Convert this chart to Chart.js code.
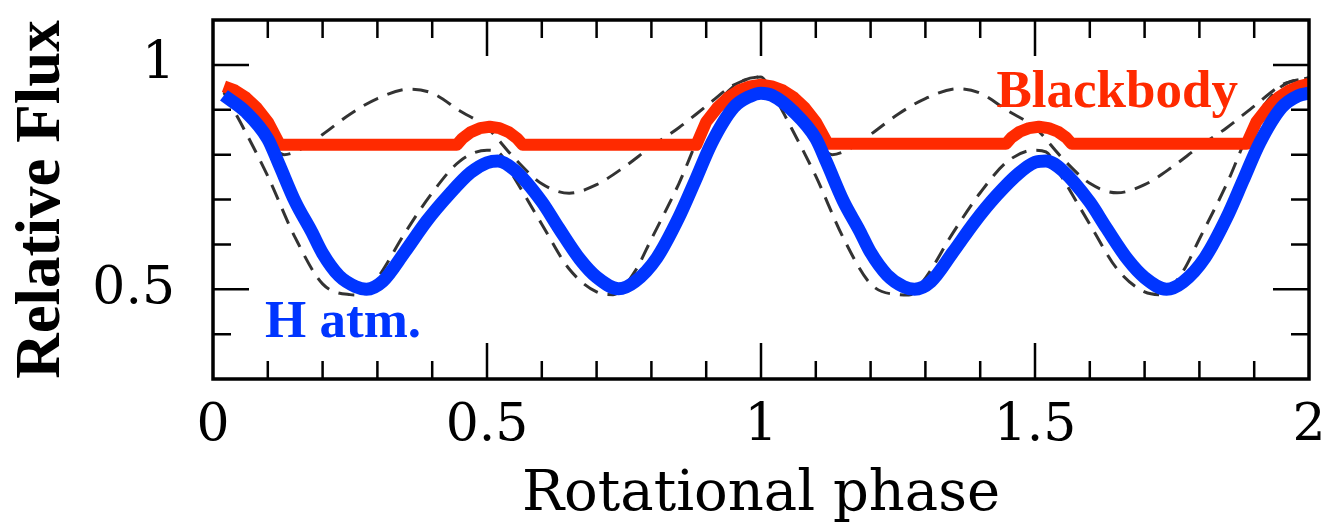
<!DOCTYPE html>
<html lang="en">

<head>
  <meta charset="UTF-8" />
  <title>Rotational phase</title>
  <script src="https://cdn.jsdelivr.net/npm/chart.js"></script>
  <style>
    body { margin: 0; background: #fff; }
  </style>
</head>

<body>
  <canvas id="graficoFase" width="1331" height="525"></canvas>

<script>
  // H atmosphere model (blue)
  const hPhase = [0.02, 0.06, 0.10, 0.12, 0.15, 0.18, 0.20, 0.23, 0.26, 0.28, 0.31, 0.35, 0.39, 0.43, 0.47, 0.50,
    0.52, 0.55, 0.60, 0.63, 0.67, 0.70, 0.74, 0.77, 0.81, 0.85, 0.88, 0.91, 0.95, 0.98, 1.00,
    1.02, 1.06, 1.10, 1.12, 1.15, 1.18, 1.20, 1.23, 1.26, 1.28, 1.31, 1.35, 1.39, 1.43, 1.47, 1.50,
    1.52, 1.55, 1.60, 1.63, 1.67, 1.70, 1.74, 1.77, 1.81, 1.85, 1.88, 1.91, 1.95, 1.98, 2.00];
  const hFlux = [0.932, 0.895, 0.835, 0.780, 0.695, 0.628, 0.580, 0.530, 0.506, 0.500, 0.518, 0.583, 0.652, 0.710, 0.760, 0.782,
    0.786, 0.766, 0.695, 0.638, 0.566, 0.527, 0.501, 0.517, 0.570, 0.660, 0.742, 0.826, 0.905, 0.930, 0.937,
    0.932, 0.895, 0.836, 0.782, 0.697, 0.630, 0.582, 0.532, 0.506, 0.500, 0.517, 0.582, 0.650, 0.709, 0.758, 0.783,
    0.786, 0.765, 0.694, 0.637, 0.565, 0.526, 0.500, 0.516, 0.570, 0.660, 0.743, 0.826, 0.905, 0.931, 0.937];

  // blackbody (red) - flat floor with sharp corners, so no smoothing on this one
  const bbPhase = [0.02, 0.04, 0.06, 0.08, 0.10, 0.122, 0.445, 0.455, 0.47, 0.487, 0.505, 0.523, 0.54, 0.555, 0.565,
    0.882, 0.90, 0.92, 0.94, 0.96, 0.98, 1.00, 1.02, 1.04, 1.06, 1.08, 1.10, 1.122,
    1.447, 1.457, 1.472, 1.489, 1.507, 1.525, 1.542, 1.557, 1.567,
    1.886, 1.904, 1.924, 1.944, 1.964, 1.984, 2.00];
  const bbFlux = [0.952, 0.943, 0.927, 0.904, 0.873, 0.822, 0.822, 0.836, 0.850, 0.859, 0.862, 0.859, 0.850, 0.836, 0.822,
    0.822, 0.873, 0.904, 0.927, 0.943, 0.952, 0.956, 0.952, 0.943, 0.927, 0.904, 0.873, 0.824,
    0.824, 0.838, 0.851, 0.859, 0.862, 0.859, 0.851, 0.838, 0.824,
    0.824, 0.873, 0.904, 0.927, 0.943, 0.953, 0.958];

  // dashed comparison curves
  const upPhase = [0.02, 0.05, 0.08, 0.10, 0.13, 0.16, 0.20, 0.25, 0.30, 0.36, 0.40, 0.45, 0.50, 0.55, 0.60, 0.65,
    0.70, 0.75, 0.80, 0.85, 0.90, 0.95, 1.00,
    1.02, 1.05, 1.08, 1.10, 1.13, 1.16, 1.20, 1.25, 1.30, 1.36, 1.40, 1.45, 1.50, 1.55, 1.60, 1.65,
    1.70, 1.75, 1.80, 1.85, 1.90, 1.95, 2.00];
  const upFlux = [0.940, 0.903, 0.858, 0.830, 0.800, 0.812, 0.845, 0.890, 0.925, 0.946, 0.937, 0.898, 0.860, 0.792, 0.735, 0.714,
    0.733, 0.772, 0.818, 0.860, 0.908, 0.955, 0.973,
    0.942, 0.903, 0.858, 0.830, 0.800, 0.812, 0.845, 0.890, 0.925, 0.947, 0.937, 0.898, 0.860, 0.792, 0.736, 0.715,
    0.733, 0.772, 0.818, 0.860, 0.908, 0.955, 0.972];

  const lowPhase = [0.02, 0.05, 0.10, 0.15, 0.20, 0.25, 0.27, 0.30, 0.35, 0.40, 0.45, 0.50, 0.52, 0.55, 0.60, 0.65,
    0.70, 0.73, 0.77, 0.80, 0.85, 0.90, 0.95, 1.00,
    1.02, 1.05, 1.10, 1.15, 1.20, 1.25, 1.27, 1.30, 1.35, 1.40, 1.45, 1.50, 1.52, 1.55, 1.60, 1.65,
    1.70, 1.73, 1.77, 1.80, 1.85, 1.90, 1.95, 2.00];
  const lowFlux = [0.938, 0.872, 0.752, 0.615, 0.512, 0.488, 0.487, 0.525, 0.625, 0.715, 0.785, 0.810, 0.806, 0.748, 0.645, 0.545,
    0.494, 0.488, 0.540, 0.612, 0.735, 0.875, 0.952, 0.973,
    0.940, 0.872, 0.752, 0.615, 0.512, 0.488, 0.487, 0.525, 0.625, 0.715, 0.785, 0.810, 0.806, 0.748, 0.645, 0.545,
    0.494, 0.488, 0.540, 0.612, 0.735, 0.875, 0.952, 0.972];

  const xLabelTicks = [0, 0.5, 1, 1.5, 2];
  const yLabelTicks = [0.5, 1];

  const pontos = (xs, ys) => xs.map((v, i) => ({ x: v, y: ys[i] }));

  // inward ticks on all four sides + closed frame
  const molduraTicks = {
    id: 'molduraTicks',
    afterDraw(chart) {
      const { ctx, chartArea: a, scales: { x, y } } = chart;
      ctx.save();
      ctx.strokeStyle = '#000';
      ctx.lineWidth = 2.5;
      ctx.beginPath();
      for (let i = 1; i < 20; i++) {
        const px = x.getPixelForValue(i / 10);
        const len = i % 5 === 0 ? 36 : 18;
        ctx.moveTo(px, a.bottom); ctx.lineTo(px, a.bottom - len);
        ctx.moveTo(px, a.top); ctx.lineTo(px, a.top + len);
      }
      for (let i = 4; i < 11; i++) {
        const py = y.getPixelForValue(i / 10);
        const len = i % 5 === 0 ? 36 : 18;
        ctx.moveTo(a.left, py); ctx.lineTo(a.left + len, py);
        ctx.moveTo(a.right, py); ctx.lineTo(a.right - len, py);
      }
      ctx.stroke();
      ctx.lineWidth = 3.5;
      ctx.strokeRect(a.left, a.top, a.right - a.left, a.bottom - a.top);
      ctx.restore();
    }
  };

  // curve names written next to the curves
  const rotulos = {
    id: 'rotulos',
    afterDraw(chart) {
      const { ctx, scales: { x, y } } = chart;
      ctx.save();
      ctx.font = "bold 53px 'Liberation Serif', serif";
      ctx.textBaseline = 'alphabetic';
      ctx.fillStyle = '#ff2a00';
      ctx.textAlign = 'center';
      ctx.fillText('Blackbody', x.getPixelForValue(1.65), y.getPixelForValue(0.906));
      ctx.fillStyle = '#0035ff';
      ctx.textAlign = 'left';
      ctx.fillText('H atm.', x.getPixelForValue(0.095), y.getPixelForValue(0.393));
      ctx.restore();
    }
  };

  const fonteTicks = { family: "'DejaVu Serif', serif", size: 52 };

  new Chart(document.getElementById('graficoFase'), {
    type: 'line',
    data: {
      datasets: [
        {
          label: 'H atm.',
          data: pontos(hPhase, hFlux),
          borderColor: '#0035ff',
          borderWidth: 13,
          cubicInterpolationMode: 'monotone',
          pointRadius: 0,
          borderCapStyle: 'butt',
          borderJoinStyle: 'round'
        },
        {
          label: 'Blackbody',
          data: pontos(bbPhase, bbFlux),
          borderColor: '#ff2a00',
          borderWidth: 12,
          tension: 0,
          pointRadius: 0,
          borderCapStyle: 'butt',
          borderJoinStyle: 'round'
        },
        {
          label: 'upper',
          data: pontos(upPhase, upFlux),
          borderColor: '#333',
          borderWidth: 3,
          borderDash: [16, 10],
          cubicInterpolationMode: 'monotone',
          pointRadius: 0
        },
        {
          label: 'lower',
          data: pontos(lowPhase, lowFlux),
          borderColor: '#333',
          borderWidth: 3,
          borderDash: [16, 10],
          cubicInterpolationMode: 'monotone',
          pointRadius: 0
        }
      ]
    },
    options: {
      responsive: false,
      animation: false,
      layout: { padding: { top: 20, right: 22, left: 0, bottom: 0 } },
      plugins: {
        legend: { display: false },
        tooltip: { enabled: false }
      },
      scales: {
        x: {
          type: 'linear',
          min: 0,
          max: 2,
          afterFit: (s) => { s.height = 146; s.paddingLeft = 0; s.paddingRight = 0; },
          afterBuildTicks: (s) => { s.ticks = xLabelTicks.map(v => ({ value: v })); },
          grid: { display: false, drawTicks: false },
          border: { display: false },
          ticks: { color: '#000', font: fonteTicks, padding: 16, maxRotation: 0, callback: (v) => String(v) },
          title: {
            display: true,
            text: 'Rotational phase',
            color: '#000',
            font: { family: "'DejaVu Serif', serif", size: 56, lineHeight: 1 },
            padding: { top: 0, bottom: 2 }
          }
        },
        y: {
          min: 0.3,
          max: 1.1,
          afterFit: (s) => { s.width = 213; s.paddingTop = 0; s.paddingBottom = 0; },
          afterBuildTicks: (s) => { s.ticks = yLabelTicks.map(v => ({ value: v })); },
          grid: { display: false, drawTicks: false },
          border: { display: false },
          ticks: { color: '#000', font: fonteTicks, padding: 38, callback: (v) => String(v) },
          title: {
            display: true,
            text: 'Relative Flux',
            color: '#000',
            font: { family: "'Liberation Serif', serif", size: 63, weight: 'bold' },
            padding: { top: 5, bottom: 0 }
          }
        }
      }
    },
    plugins: [molduraTicks, rotulos]
  });
</script>
</body>

</html>
